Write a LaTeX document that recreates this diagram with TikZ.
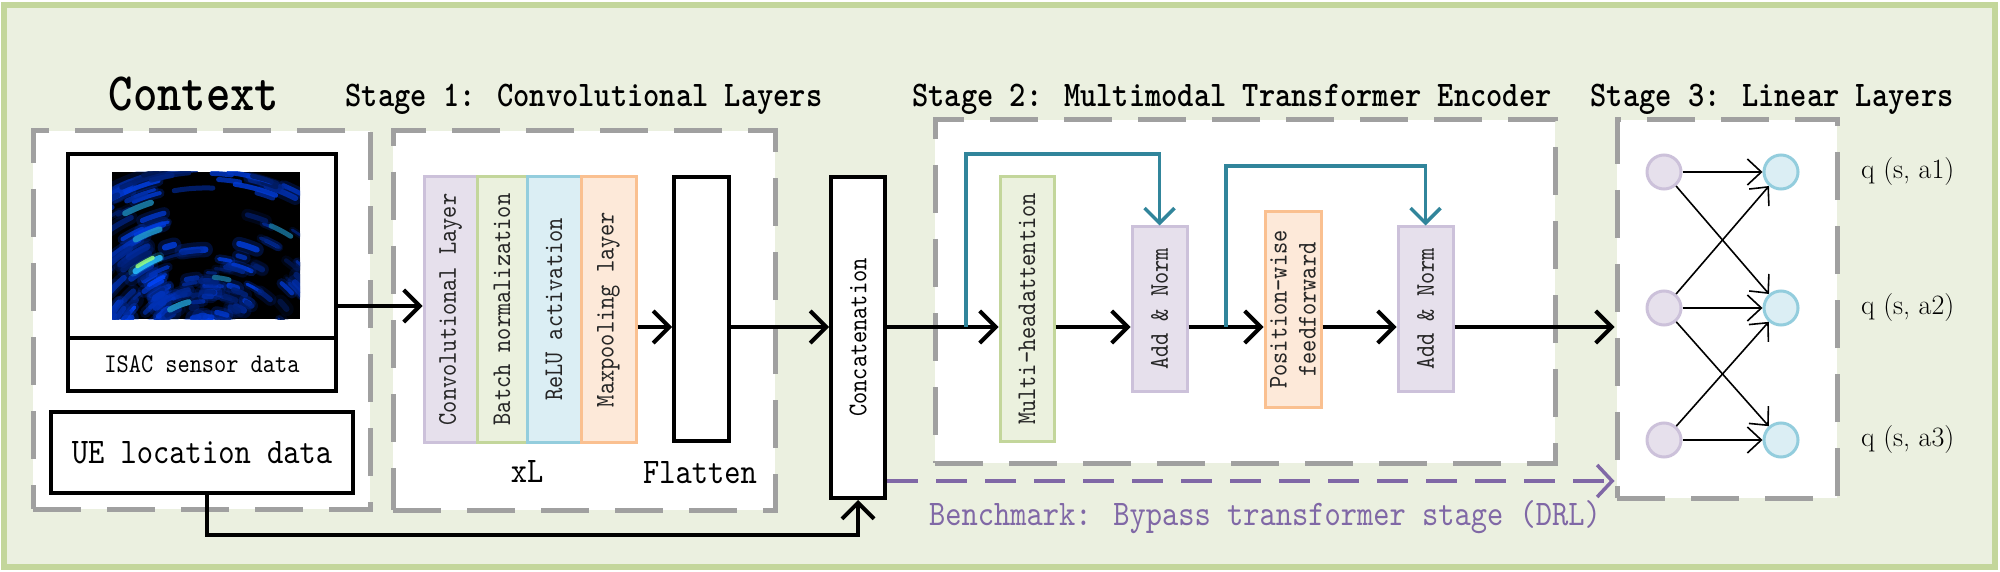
\documentclass[tikz,border=0pt]{standalone}
\usepackage{fontspec}
\newfontfamily\mono[Extension=.otf, UprightFont=*-regular, BoldFont=lmmonolt10-bold, FakeStretch=0.86]{lmmono10}
\usetikzlibrary{arrows.meta}
\definecolor{bgc}{RGB}{235,240,224}
\definecolor{bgborder}{RGB}{195,214,155}
\definecolor{dgray}{RGB}{160,160,160}
\definecolor{pf}{HTML}{E6E0EC}\definecolor{pb}{HTML}{CCC1DA}
\definecolor{gf}{HTML}{EBF1DE}\definecolor{gb}{HTML}{C3D69B}
\definecolor{bf}{HTML}{DBEEF4}\definecolor{bb}{HTML}{93CDDD}
\definecolor{of}{HTML}{FDE9D9}\definecolor{ob}{HTML}{FAC090}
\definecolor{tealc}{RGB}{49,133,155}
\definecolor{purp}{RGB}{128,104,166}
\definecolor{rbl}{RGB}{0,70,255}
\definecolor{rcy}{RGB}{40,190,255}
\begin{document}
\begin{tikzpicture}[x=1pt,y=-1pt,
  stagebox/.style={draw=dgray, fill=white, line width=5pt, dash pattern=on 48pt off 26pt, inner sep=0pt},
  blk/.style={draw=black, line width=4pt, fill=white, inner sep=0pt},
  layer/.style={line width=3pt, inner sep=0pt},
  ltext/.style={rotate=90, inner sep=0pt, font=\mono\fontsize{27}{29}\selectfont, text=black!85, align=center},
  flow/.style={line width=4pt, -{Straight Barb[length=16pt,width=32pt]}},
  resid/.style={draw=tealc, line width=3.5pt, -{Straight Barb[length=15pt,width=30pt]}},
  bench/.style={draw=purp, line width=3.5pt, dash pattern=on 31pt off 18pt, -{Straight Barb[length=15pt,width=32pt]}},
  nn/.style={line width=1.6pt, -{Straight Barb[length=14pt,width=26pt]}},
  neuron/.style={circle, minimum size=34pt, line width=3pt, inner sep=0pt},
  title/.style={anchor=base, inner sep=0pt, font=\mono\bfseries\fontsize{36}{40}\selectfont},
  plain/.style={anchor=base, inner sep=0pt, font=\mono\fontsize{36}{40}\selectfont},
  qlab/.style={anchor=west, inner sep=0pt, font=\fontsize{28}{30}\selectfont},
  streak/.style={opacity=0.85, line cap=round},
  glow/.style={opacity=0.25, line cap=round},
]
\fill[white] (0,0) rectangle (2000,572);
\useasboundingbox (0,0) rectangle (2000,572);
\draw[fill=bgc, draw=bgborder, line width=6pt] (4,5) rectangle (1995,567);

% stage boxes
\node[stagebox, minimum width=337pt, minimum height=378pt] (s0) at (201.5,320) {};
\node[stagebox, minimum width=382pt, minimum height=379pt] (s1) at (584,320.5) {};
\node[stagebox, minimum width=620pt, minimum height=343pt] (s2) at (1245,291.5) {};
\node[stagebox, minimum width=220pt, minimum height=378pt] (s3) at (1727,309) {};

% titles
\node[anchor=base, inner sep=0pt, font=\mono\bfseries\fontsize{54}{60}\selectfont] (ctx) at (194,111) {Context};
\node[title] (t1) at (584,107) {Stage 1: Convolutional Layers};
\node[title] (t2) at (1232,107) {Stage 2: Multimodal Transformer Encoder};
\node[title] (t3) at (1772,107) {Stage 3: Linear Layers};

% context contents
\node[blk, minimum width=268pt, minimum height=184pt] (img) at (202,246) {};
\node[blk, minimum width=268pt, minimum height=53pt] (isac) at (202,364.5) {};
\node[anchor=base, inner sep=0pt, font=\mono\fontsize{27}{30}\selectfont] (isact) at (202,372) {ISAC sensor data};
\node[blk, minimum width=302pt, minimum height=81pt] (ue) at (202,452.5) {};
\node[plain] (uet) at (202,463) {UE location data};

% radar image
\begin{scope}
  \clip (112,172) rectangle (300,319);
  \fill[black] (112,172) rectangle (300,319);
  \begin{scope}[shift={(206,372)}, y=1pt]
    \pgfmathsetseed{11}
    \foreach \i in {1,...,130}{
      \pgfmathsetmacro{\rr}{65+145*rnd}
      \pgfmathsetmacro{\aa}{103+62*rnd}
      \pgfmathsetmacro{\dd}{4+12*rnd}
      \pgfmathtruncatemacro{\cc}{40+60*rnd}
      \pgfmathsetmacro{\ww}{3+4*rnd}
      \draw[line width=2.4*\ww pt, draw=rbl!\cc!black, glow] (\aa:\rr) arc[start angle=\aa, delta angle=\dd, radius=\rr];
      \draw[line width=\ww pt, draw=rbl!\cc!black, streak] (\aa:\rr) arc[start angle=\aa, delta angle=\dd, radius=\rr];
    }
    \foreach \i in {1,...,45}{
      \pgfmathsetmacro{\rr}{50+75*rnd}
      \pgfmathsetmacro{\aa}{55+48*rnd}
      \pgfmathsetmacro{\dd}{3+8*rnd}
      \pgfmathtruncatemacro{\cc}{30+70*rnd}
      \pgfmathsetmacro{\ww}{3+4*rnd}
      \draw[line width=2.4*\ww pt, draw=rbl!\cc!black, glow] (\aa:\rr) arc[start angle=\aa, delta angle=\dd, radius=\rr];
      \draw[line width=\ww pt, draw=rbl!\cc!black, streak] (\aa:\rr) arc[start angle=\aa, delta angle=\dd, radius=\rr];
    }
    \foreach \i in {1,...,45}{
      \pgfmathsetmacro{\rr}{90+120*rnd}
      \pgfmathsetmacro{\aa}{22+52*rnd}
      \pgfmathsetmacro{\dd}{3+9*rnd}
      \pgfmathtruncatemacro{\cc}{25+65*rnd}
      \pgfmathsetmacro{\ww}{2.5+4*rnd}
      \draw[line width=2.4*\ww pt, draw=rbl!\cc!black, glow] (\aa:\rr) arc[start angle=\aa, delta angle=\dd, radius=\rr];
      \draw[line width=\ww pt, draw=rbl!\cc!black, streak] (\aa:\rr) arc[start angle=\aa, delta angle=\dd, radius=\rr];
    }
    \foreach \i in {1,...,16}{
      \pgfmathsetmacro{\rr}{183+25*rnd}
      \pgfmathsetmacro{\aa}{58+64*rnd}
      \pgfmathsetmacro{\dd}{4+9*rnd}
      \pgfmathtruncatemacro{\cc}{30+55*rnd}
      \draw[line width=5pt, draw=rbl!\cc!black, streak] (\aa:\rr) arc[start angle=\aa, delta angle=\dd, radius=\rr];
    }
    \draw[line width=10pt, draw=rcy, glow] (112:124) arc[start angle=112, delta angle=14, radius=124];
    \draw[line width=6pt, draw=rcy, streak] (112:123) arc[start angle=112, delta angle=13, radius=123];
    \draw[line width=4pt, draw={rgb,255:red,150;green,255;blue,130}, streak] (115:126) arc[start angle=115, delta angle=8, radius=126];
    \draw[line width=6pt, draw=rcy!80!black, streak] (108:150) arc[start angle=108, delta angle=10, radius=150];
    \draw[line width=6pt, draw=rcy!70!black, streak] (108:178) arc[start angle=108, delta angle=9, radius=178];
    \draw[line width=6pt, draw=rcy!80!black, streak] (104:72) arc[start angle=104, delta angle=16, radius=72];
    \draw[line width=5pt, draw=rcy!60!black, streak] (58:160) arc[start angle=58, delta angle=8, radius=160];
    \draw[line width=5pt, draw=rcy!60!black, streak] (76:95) arc[start angle=76, delta angle=9, radius=95];
  \end{scope}
\end{scope}

% stage 1 layers
\node[layer, fill=pf, draw=pb, minimum width=53pt, minimum height=265pt] (c1) at (450.5,309.5) {};
\node[layer, fill=gf, draw=gb, minimum width=50pt, minimum height=265pt] (c2) at (502,309.5) {};
\node[layer, fill=bf, draw=bb, minimum width=54pt, minimum height=265pt] (c3) at (554,309.5) {};
\node[layer, fill=of, draw=ob, minimum width=55pt, minimum height=265pt] (c4) at (608.5,309.5) {};
\node[ltext] (c1t) at (c1.center) {Convolutional Layer};
\node[ltext] (c2t) at (c2.center) {Batch normalization};
\node[ltext] (c3t) at (c3.center) {ReLU activation};
\node[ltext] (c4t) at (c4.center) {Maxpooling layer};
\node[plain] (xl) at (527,482) {xL};
\node[blk, minimum width=55pt, minimum height=264pt] (flat) at (701.5,309) {};
\node[plain] (flatt) at (700,483) {Flatten};
\node[blk, minimum width=54pt, minimum height=321pt] (concat) at (858,337.5) {};
\node[ltext, text=black] (concatt) at (concat.center) {Concatenation};

% stage 2
\node[layer, fill=gf, draw=gb, minimum width=54pt, minimum height=264pt] (mha) at (1027,309) {};
\node[ltext] (mhat) at (mha.center) {Multi-headattention};
\node[layer, fill=pf, draw=pb, minimum width=55pt, minimum height=164pt] (an1) at (1159.5,309) {};
\node[ltext] (an1t) at (an1.center) {Add \& Norm};
\node[layer, fill=of, draw=ob, minimum width=56pt, minimum height=195pt] (pff) at (1293,309.5) {};
\node[ltext] (pfft) at (pff.center) {Position-wise\\feedforward};
\node[layer, fill=pf, draw=pb, minimum width=55pt, minimum height=164pt] (an2) at (1425.5,309) {};
\node[ltext] (an2t) at (an2.center) {Add \& Norm};

% stage 3
\node[neuron, fill=pf, draw=pb] (l1) at (1664,172) {};
\node[neuron, fill=pf, draw=pb] (l2) at (1664,308) {};
\node[neuron, fill=pf, draw=pb] (l3) at (1664,440) {};
\node[neuron, fill=bf, draw=bb] (r1) at (1781,172) {};
\node[neuron, fill=bf, draw=bb] (r2) at (1781,308) {};
\node[neuron, fill=bf, draw=bb] (r3) at (1781,440) {};
\draw[nn] (l1) -- (r1);
\draw[nn] (l1) -- (r2);
\draw[nn] (l2) -- (r1);
\draw[nn] (l2) -- (r2);
\draw[nn] (l2) -- (r3);
\draw[nn] (l3) -- (r2);
\draw[nn] (l3) -- (r3);
\node[qlab] (q1) at (1861,172) {q (s, a1)};
\node[qlab] (q2) at (1861,308) {q (s, a2)};
\node[qlab] (q3) at (1861,440) {q (s, a3)};

% connectors
\coordinate (pA) at (336,306);
\coordinate (row) at (0,327);
\draw[flow] (img.east |- pA) -- (pA -| c1.west);
\draw[flow] (c4.east |- row) -- (flat.west |- row);
\draw[flow] (flat.east |- row) -- (concat.west |- row);
\draw[flow] (concat.east |- row) -- (mha.west |- row);
\draw[flow] (mha.east |- row) -- (an1.west |- row);
\draw[flow] (an1.east |- row) -- (pff.west |- row);
\draw[flow] (pff.east |- row) -- (an2.west |- row);
\draw[flow] (an2.east |- row) -- (s3.west |- row);
\coordinate (r1a) at (966,327);
\coordinate (r1b) at (966,154);
\draw[resid] (r1a) -- (r1b) -| (an1.north);
\coordinate (r2a) at (1226,327);
\coordinate (r2b) at (1226,166);
\draw[resid] (r2a) -- (r2b) -| (an2.north);
\coordinate (ueb) at (207,535);
\draw[flow] (ue.south -| ueb) -- (ueb) -| (concat.south);
\coordinate (bm) at (885,481);
\draw[bench] (concat.east |- bm) -- (s3.west |- bm);
\node[anchor=base, inner sep=0pt, font=\mono\fontsize{36}{40}\selectfont, text=purp] (bmt) at (1265,525) {Benchmark: Bypass transformer stage (DRL)};
\end{tikzpicture}
\end{document}
